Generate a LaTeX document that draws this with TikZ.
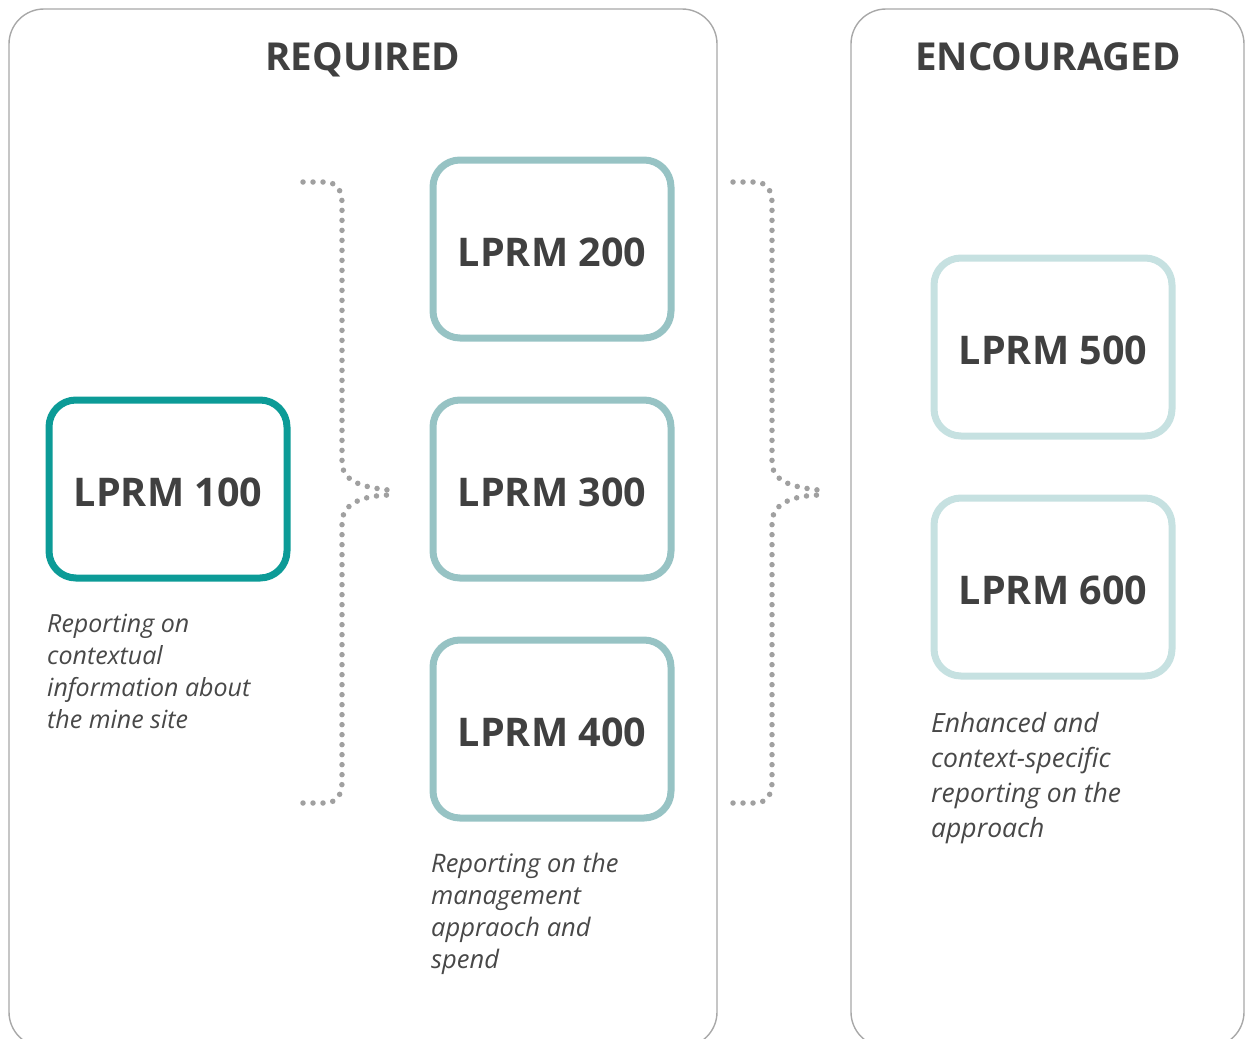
\documentclass[tikz,border=0pt]{standalone}
\usepackage{fontspec}
\setmainfont{Open Sans}
\definecolor{panelgray}{HTML}{A8A8A8}
\definecolor{txt}{HTML}{404040}
\definecolor{desctxt}{HTML}{484848}
\definecolor{tealA}{HTML}{0C9B97}
\definecolor{tealB}{HTML}{97C3C4}
\definecolor{tealC}{HTML}{C6E1E1}
\definecolor{dotgray}{HTML}{A0A0A0}
\begin{document}
\begin{tikzpicture}[x=1pt,y=-1pt,
  panel/.style={draw=panelgray, line width=1.4pt, rounded corners=35pt},
  lprm/.style={draw, line width=7pt, rounded corners=27pt, minimum width=238pt,
    minimum height=178pt, text=txt, font=\fontsize{39.5}{47}\selectfont\bfseries,
    text height=34pt, text depth=0pt, inner sep=0pt},
  title/.style={anchor=base, text=txt, font=\fontsize{38.5}{46}\selectfont\bfseries, inner sep=0pt},
  desc/.style={anchor=base west, align=left, text=desctxt, inner sep=0pt,
    font=\fontsize{25}{32}\selectfont\itshape},
  bracedots/.style={draw=dotgray, line width=5.5pt, line cap=round,
    dash pattern=on 0pt off 10pt}
]
\useasboundingbox (0,0) rectangle (1248,1039);
\clip (0,0) rectangle (1248,1039);
% panels
\draw[panel] (9,9) rectangle (717,1047);
\draw[panel] (851,9) rectangle (1244,1047);
% titles
\node[title] (treq) at (363,70) {REQUIRED};
\node[title] (tenc) at (1048,70) {ENCOURAGED};
% boxes
\node[lprm, draw=tealA] (l100) at (168,489) {LPRM 100};
\node[lprm, draw=tealB] (l200) at (552,249) {LPRM 200};
\node[lprm, draw=tealB] (l300) at (552,489) {LPRM 300};
\node[lprm, draw=tealB] (l400) at (552,729) {LPRM 400};
\node[lprm, draw=tealC] (l500) at (1053,347) {LPRM 500};
\node[lprm, draw=tealC] (l600) at (1053,587) {LPRM 600};
% descriptions (anchor = baseline of last line)
\node[desc] (d100) at (47,728) {Reporting on\\contextual\\information about\\the mine site};
\node[desc, font=\fontsize{25.5}{32}\selectfont\itshape] (d200) at (431,968) {Reporting on the\\management\\appraoch and\\spend};
\node[desc, font=\fontsize{26.5}{35}\selectfont\itshape] (d500) at (931,837) {Enhanced and\\context-specific\\reporting on the\\approach};
% braces
\foreach \ox/\nm in {303/a,733/b}{
  \begin{scope}[shift={(\ox,182)}]
    \coordinate (top\nm) at (0,0);
    \coordinate (tip\nm) at (85,308);
    \coordinate (bot\nm) at (0,621);
    \draw[bracedots] (top\nm) -- (22,0) .. controls (33,0) and (39,8) .. (39,20)
      -- (39,280) .. controls (39,300) and (60,305) .. (tip\nm);
    \draw[bracedots] (bot\nm) -- (22,621) .. controls (33,621) and (39,613) .. (39,601)
      -- (39,341) .. controls (39,321) and (60,314) .. (85,313);
  \end{scope}
}
\end{tikzpicture}
\end{document}
